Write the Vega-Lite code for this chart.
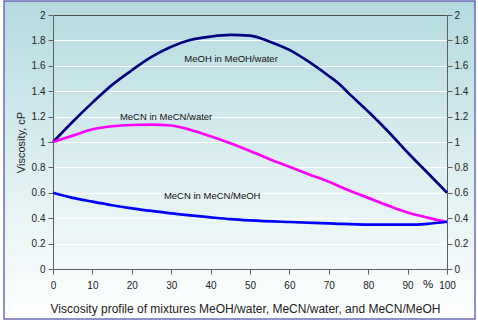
{
  "$schema": "https://vega.github.io/schema/vega-lite/v6.json",
  "width": 471,
  "height": 318,
  "autosize": "none",
  "padding": {"left": 4, "top": 1, "right": 3, "bottom": 2},
  "background": "white",
  "config": {
    "font": "Liberation Sans",
    "view": {
      "fill": {"gradient": "linear", "x1": 0, "y1": 0, "x2": 0, "y2": 1,
        "stops": [{"offset": 0, "color": "#b3dadf"}, {"offset": 0.55, "color": "#dff0f2"}, {"offset": 1, "color": "#ffffff"}]},
      "stroke": "#6b6bb8",
      "strokeWidth": 1.5
    },
    "axis": {
      "labelFont": "Liberation Sans",
      "labelFontSize": 10,
      "labelColor": "#222222",
      "titleFont": "Liberation Sans",
      "titleFontWeight": "normal",
      "titleColor": "#222222",
      "domainColor": "#606060",
      "tickColor": "#606060",
      "tickSize": 5,
      "gridColor": "#ffffff",
      "gridOpacity": 1,
      "gridWidth": 1
    }
  },
  "datasets": {
    "curves": [
      {"series": "MeOH in MeOH/water", "pct": 0, "v": 1.0},
      {"series": "MeOH in MeOH/water", "pct": 5, "v": 1.16},
      {"series": "MeOH in MeOH/water", "pct": 10, "v": 1.31},
      {"series": "MeOH in MeOH/water", "pct": 15, "v": 1.45},
      {"series": "MeOH in MeOH/water", "pct": 20, "v": 1.565},
      {"series": "MeOH in MeOH/water", "pct": 25, "v": 1.67},
      {"series": "MeOH in MeOH/water", "pct": 30, "v": 1.75},
      {"series": "MeOH in MeOH/water", "pct": 35, "v": 1.805},
      {"series": "MeOH in MeOH/water", "pct": 40, "v": 1.83},
      {"series": "MeOH in MeOH/water", "pct": 45, "v": 1.843},
      {"series": "MeOH in MeOH/water", "pct": 50, "v": 1.837},
      {"series": "MeOH in MeOH/water", "pct": 55, "v": 1.79},
      {"series": "MeOH in MeOH/water", "pct": 60, "v": 1.725},
      {"series": "MeOH in MeOH/water", "pct": 65, "v": 1.63},
      {"series": "MeOH in MeOH/water", "pct": 70, "v": 1.52},
      {"series": "MeOH in MeOH/water", "pct": 72.5, "v": 1.46},
      {"series": "MeOH in MeOH/water", "pct": 75, "v": 1.385},
      {"series": "MeOH in MeOH/water", "pct": 80, "v": 1.24},
      {"series": "MeOH in MeOH/water", "pct": 85, "v": 1.085},
      {"series": "MeOH in MeOH/water", "pct": 90, "v": 0.917},
      {"series": "MeOH in MeOH/water", "pct": 95, "v": 0.76},
      {"series": "MeOH in MeOH/water", "pct": 100, "v": 0.6},
      {"series": "MeCN in MeCN/water", "pct": 0, "v": 1.0},
      {"series": "MeCN in MeCN/water", "pct": 5, "v": 1.05},
      {"series": "MeCN in MeCN/water", "pct": 10, "v": 1.10},
      {"series": "MeCN in MeCN/water", "pct": 15, "v": 1.124},
      {"series": "MeCN in MeCN/water", "pct": 20, "v": 1.134},
      {"series": "MeCN in MeCN/water", "pct": 25, "v": 1.137},
      {"series": "MeCN in MeCN/water", "pct": 30, "v": 1.13},
      {"series": "MeCN in MeCN/water", "pct": 35, "v": 1.095},
      {"series": "MeCN in MeCN/water", "pct": 40, "v": 1.045},
      {"series": "MeCN in MeCN/water", "pct": 45, "v": 0.99},
      {"series": "MeCN in MeCN/water", "pct": 50, "v": 0.93},
      {"series": "MeCN in MeCN/water", "pct": 55, "v": 0.865},
      {"series": "MeCN in MeCN/water", "pct": 60, "v": 0.805},
      {"series": "MeCN in MeCN/water", "pct": 65, "v": 0.745},
      {"series": "MeCN in MeCN/water", "pct": 70, "v": 0.687},
      {"series": "MeCN in MeCN/water", "pct": 75, "v": 0.62},
      {"series": "MeCN in MeCN/water", "pct": 80, "v": 0.56},
      {"series": "MeCN in MeCN/water", "pct": 85, "v": 0.50},
      {"series": "MeCN in MeCN/water", "pct": 90, "v": 0.445},
      {"series": "MeCN in MeCN/water", "pct": 95, "v": 0.405},
      {"series": "MeCN in MeCN/water", "pct": 100, "v": 0.37},
      {"series": "MeCN in MeCN/MeOH", "pct": 0, "v": 0.6},
      {"series": "MeCN in MeCN/MeOH", "pct": 5, "v": 0.56},
      {"series": "MeCN in MeCN/MeOH", "pct": 10, "v": 0.53},
      {"series": "MeCN in MeCN/MeOH", "pct": 15, "v": 0.502},
      {"series": "MeCN in MeCN/MeOH", "pct": 20, "v": 0.478},
      {"series": "MeCN in MeCN/MeOH", "pct": 25, "v": 0.457},
      {"series": "MeCN in MeCN/MeOH", "pct": 30, "v": 0.438},
      {"series": "MeCN in MeCN/MeOH", "pct": 35, "v": 0.422},
      {"series": "MeCN in MeCN/MeOH", "pct": 40, "v": 0.407},
      {"series": "MeCN in MeCN/MeOH", "pct": 45, "v": 0.393},
      {"series": "MeCN in MeCN/MeOH", "pct": 50, "v": 0.383},
      {"series": "MeCN in MeCN/MeOH", "pct": 60, "v": 0.37},
      {"series": "MeCN in MeCN/MeOH", "pct": 70, "v": 0.36},
      {"series": "MeCN in MeCN/MeOH", "pct": 80, "v": 0.349},
      {"series": "MeCN in MeCN/MeOH", "pct": 90, "v": 0.349},
      {"series": "MeCN in MeCN/MeOH", "pct": 95, "v": 0.356},
      {"series": "MeCN in MeCN/MeOH", "pct": 100, "v": 0.372}
    ],
    "labels": [
      {"text": "MeOH in MeOH/water", "pct": 45.2, "v": 1.65, "size": 9.5},
      {"text": "MeCN in MeCN/water", "pct": 28.7, "v": 1.197, "size": 9.5},
      {"text": "MeCN in MeCN/MeOH", "pct": 40.4, "v": 0.575, "size": 9.5},
      {"text": "%", "pct": 95.2, "v": -0.126, "size": 11.5}
    ]
  },
  "resolve": {"axis": {"x": "independent", "y": "independent"}},
  "layer": [
    {
      "data": {"name": "curves"},
      "mark": {"type": "line", "strokeWidth": 2.7, "interpolate": "monotone"},
      "encoding": {
        "x": {"field": "pct", "type": "quantitative",
          "scale": {"domain": [0, 100], "range": [49, 443], "nice": false, "zero": false},
          "axis": {"orient": "bottom", "offset": -50, "values": [0,10,20,30,40,50,60,70,80,90,100], "grid": false,
            "labelFlush": false, "labelOverlap": false,
            "labelPadding": 6, "title": "Viscosity profile of mixtures MeOH/water, MeCN/water, and MeCN/MeOH",
            "titleFontSize": 12, "titlePadding": 13, "titleX": 241}},
        "y": {"field": "v", "type": "quantitative",
          "scale": {"domain": [0, 2], "range": [268, 14], "nice": false, "zero": false},
          "axis": {"orient": "left", "offset": -49, "values": [0,0.2,0.4,0.6,0.8,1,1.2,1.4,1.6,1.8,2], "format": "~g",
            "labelFlush": false, "labelOverlap": false,
            "grid": true, "gridScale": "x", "labelPadding": 3, "title": "Viscosity, cP", "titleFontSize": 11, "titlePadding": 5}},
        "color": {"field": "series", "type": "nominal", "legend": null,
          "scale": {"domain": ["MeOH in MeOH/water", "MeCN in MeCN/water", "MeCN in MeCN/MeOH"], "range": ["#000080", "#ff00ff", "#0000ff"]}},
        "detail": {"field": "series"}
      }
    },
    {
      "data": {"name": "labels"},
      "mark": {"type": "text", "color": "#111111", "font": "Liberation Sans"},
      "encoding": {
        "x": {"field": "pct", "type": "quantitative",
          "scale": {"domain": [0, 100], "range": [49, 443], "nice": false, "zero": false},
          "axis": {"orient": "top", "offset": -14, "labels": false, "ticks": false, "grid": false, "title": null, "domainColor": "#505050"}},
        "y": {"field": "v", "type": "quantitative",
          "scale": {"domain": [0, 2], "range": [268, 14], "nice": false, "zero": false},
          "axis": {"orient": "right", "offset": -28, "values": [0,0.2,0.4,0.6,0.8,1,1.2,1.4,1.6,1.8,2], "format": "~g",
            "labelFlush": false, "labelOverlap": false,
            "grid": false, "labelPadding": 2, "title": null}},
        "text": {"field": "text"},
        "size": {"field": "size", "type": "quantitative", "scale": null}
      }
    }
  ]
}
